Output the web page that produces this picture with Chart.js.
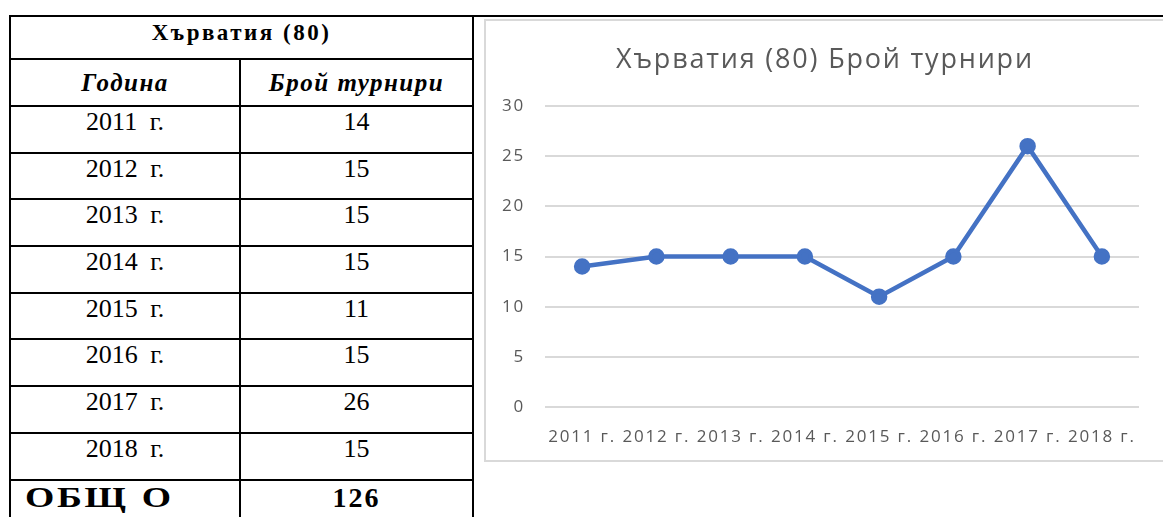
<!DOCTYPE html>
<html>
<head>
<meta charset="utf-8">
<script src="https://cdn.jsdelivr.net/npm/chart.js@4"></script>
<style>
  html, body { margin: 0; padding: 0; background: #fff; width: 1163px; height: 517px; overflow: hidden; }
  .topline { position: absolute; left: 9px; top: 15px; width: 1160px; height: 2px; background: #000; }
  .tbl {
    position: absolute; left: 9px; top: 15px; width: 465px;
    display: grid; background: #000; padding: 2px; gap: 2px; box-sizing: border-box;
    grid-template-columns: 228px 231px;
    grid-template-rows: 41px 45px repeat(8, 44.7px) 60px;
    font-family: "Liberation Serif", "Times New Roman", serif; color: #000;
  }
  .tbl div { background: #fff; display: flex; justify-content: center; align-items: flex-start; white-space: pre; }
  .tbl .h1 { grid-column: 1 / 3; font-weight: bold; font-size: 23px; letter-spacing: 2.5px; padding-top: 3px; }
  .tbl .h2 { font-weight: bold; font-style: italic; font-size: 25px; letter-spacing: 1.5px; align-items: center; }
  .tbl .d { font-size: 26px; padding-top: 0px; word-spacing: 6px; }
  .tbl .tot { font-weight: bold; font-size: 28px; letter-spacing: 2px; padding-top: 1px; }
  .tbl .tot.l { justify-content: flex-start; padding-left: 14px; font-size: 29px; padding-top: 0; }
  .tbl .tot.l span { display: inline-block; transform: scaleX(1.3); transform-origin: left center; letter-spacing: 2px; word-spacing: 1px; }
  .box { position: absolute; left: 484px; top: 19px; width: 682px; height: 443px; border: 2px solid #d9d9d9; box-sizing: border-box; }
</style>
</head>
<body>
<div class="topline"></div>
<div class="tbl" id="tbl"></div>
<div class="box"><canvas id="c"></canvas></div>
<script>
const tableTitle = 'Хърватия (80)';
const colHeaders = ['Година', 'Брой турнири'];
const years = ['2011 г.', '2012 г.', '2013 г.', '2014 г.', '2015 г.', '2016 г.', '2017 г.', '2018 г.'];
const tournaments = [14, 15, 15, 15, 11, 15, 26, 15];
const totalLabel = 'ОБЩ О';
const total = 126;
const chartTitle = 'Хърватия (80) Брой турнири';
const yTicks = [0, 5, 10, 15, 20, 25, 30];

// table
const tbl = document.getElementById('tbl');
function cell(cls, text) {
  const d = document.createElement('div');
  d.className = cls;
  d.textContent = text;
  tbl.appendChild(d);
  return d;
}
cell('h1', tableTitle);
colHeaders.forEach(h => cell('h2', h));
years.forEach((y, i) => { cell('d', y); cell('d', String(tournaments[i])); });
const totCell = cell('tot l', '');
const span = document.createElement('span');
span.textContent = totalLabel;
totCell.appendChild(span);
cell('tot', String(total));

// the picture's text is a bit wider than Open Sans, so space the letters out
const spacing = {
  id: 'spacing',
  beforeInit: c => { c.ctx.letterSpacing = '1.8px'; },
  beforeLayout: c => { c.ctx.letterSpacing = '1.8px'; },
  beforeDraw: c => { c.ctx.letterSpacing = '1.8px'; }
};

// chart
const ctx = document.getElementById('c').getContext('2d');
new Chart(ctx, {
  type: 'line',
  data: {
    labels: years,
    datasets: [{
      data: tournaments,
      borderColor: '#4472c4',
      backgroundColor: '#4472c4',
      borderWidth: 4.5,
      pointRadius: 6,
      pointHoverRadius: 6,
      pointBackgroundColor: '#4472c4',
      pointBorderColor: '#4472c4',
      tension: 0
    }]
  },
  options: {
    responsive: true,
    maintainAspectRatio: false,
    animation: false,
    layout: { padding: 0 },
    plugins: {
      legend: { display: false },
      tooltip: { enabled: false },
      title: {
        display: true,
        text: chartTitle,
        color: '#595959',
        font: { family: 'Open Sans', size: 27, weight: 'normal' },
        padding: { top: 23, bottom: 29.6 }
      }
    },
    scales: {
      x: {
        offset: true,
        grid: { display: false, drawTicks: false },
        border: { display: false },
        ticks: { color: '#595959', font: { family: 'Open Sans', size: 17 }, padding: 20, maxRotation: 0, autoSkip: false },
        afterFit: s => { s.height = 53; }
      },
      y: {
        min: 0, max: 30,
        afterBuildTicks: s => { s.ticks = yTicks.map(v => ({ value: v })); },
        grid: { color: '#d9d9d9', lineWidth: 2, drawTicks: false },
        border: { display: false },
        ticks: { color: '#595959', font: { family: 'Open Sans', size: 17 }, padding: 20 },
        afterFit: s => { s.width = 59; }
      },
      // empty right axis, only to keep the right margin without moving the title
      yRight: {
        position: 'right',
        min: 0, max: 30,
        grid: { display: false, drawTicks: false },
        border: { display: false },
        ticks: { display: false },
        afterFit: s => { s.width = 25; }
      }
    }
  },
  plugins: [spacing]
});
</script>
</body>
</html>
